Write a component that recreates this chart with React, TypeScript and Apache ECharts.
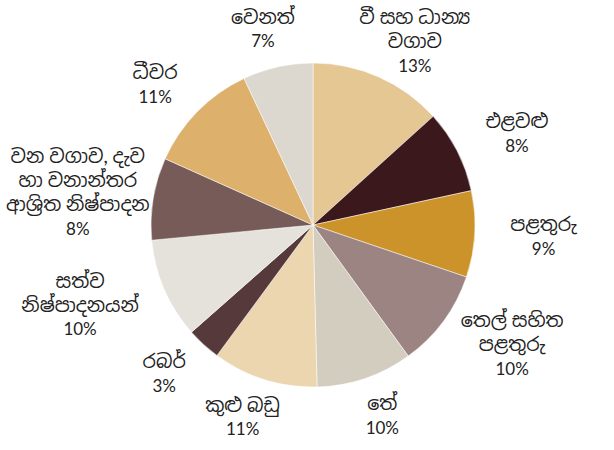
import React, { useEffect, useRef } from "react";
import * as echarts from "echarts";

const categories = [
  "වී සහ ධාන්‍ය\nවගාව",
  "එළවළු",
  "පළතුරු",
  "තෙල් සහිත\nපළතුරු",
  "තේ",
  "කුළු බඩු",
  "රබර්",
  "සත්ව\nනිෂ්පාදනයන්",
  "වන වගාව, දැව\nහා වනාන්තර\nආශ්‍රිත නිෂ්පාදන",
  "ධීවර",
  "වෙනත්",
];
const values = [13.3, 8.3, 8.6, 9.8, 9.6, 10.5, 3.4, 10.0, 8.2, 11.3, 7.0];
const colors = [
  "#E5C794",
  "#3B181C",
  "#CC932A",
  "#9B8482",
  "#D3CDBF",
  "#EBD6B0",
  "#56393A",
  "#E5E2DB",
  "#775B59",
  "#DDB06C",
  "#DCD8CF",
];

const W = 614;
const H = 450;
const CX = 313;
const CY = 225;
const R = 162;
const RA = 201;
const FONT = "Lato, 'Noto Sans Sinhala', 'Noto Sans', sans-serif";

export default function App() {
  const ref = useRef<HTMLDivElement>(null);
  useEffect(() => {
    if (!ref.current) return;
    const chart = echarts.init(ref.current, undefined, { renderer: "svg" });
    const total = values.reduce((a, b) => a + b, 0);
    const cum: number[] = [];
    let acc = 0;
    values.forEach((v) => {
      cum.push(acc);
      acc += v;
    });
    chart.setOption({
      animation: false,
      backgroundColor: "#ffffff",
      series: [
        {
          type: "pie",
          center: [CX, CY],
          radius: [0, R],
          startAngle: 90,
          clockwise: true,
          avoidLabelOverlap: false,
          itemStyle: { borderColor: "#ffffff", borderWidth: 0.5 },
          label: {
            show: true,
            position: "outside",
            formatter: (p: any) =>
              String(p.name)
                .split("\n")
                .map((l: string) => `{n|${l}}`)
                .join("\n") + `\n{p|${Math.round(p.percent)}%}`,
            fontFamily: FONT,
            color: "#222222",
            rich: {
              n: { fontFamily: FONT, fontSize: 19, lineHeight: 24, color: "#222222" },
              p: { fontFamily: FONT, fontSize: 17, lineHeight: 25, color: "#222222" },
            },
          },
          labelLine: { show: false },
          emphasis: { disabled: true },
          labelLayout: (p: any) => {
            const i = p.dataIndex;
            const mid = ((cum[i] + values[i] / 2) / total) * Math.PI * 2;
            const s = Math.sin(mid);
            const c = Math.cos(mid);
            const w = p.labelRect.width;
            const h = p.labelRect.height;
            let x = CX + RA * s + s * w * 0.45;
            let y = CY - RA * c;
            x = Math.min(Math.max(x, 6 + w / 2), W - 6 - w / 2);
            y = Math.min(Math.max(y, 4 + h / 2), H - 4 - h / 2);
            return { x, y, align: "center", verticalAlign: "middle" };
          },
          data: categories.map((name, i) => ({
            name,
            value: values[i],
            itemStyle: { color: colors[i] },
          })),
        },
      ],
    });
    return () => chart.dispose();
  }, []);
  return (
    <div
      ref={ref}
      style={{ position: "fixed", left: 0, top: 0, width: W, height: H }}
    />
  );
}
